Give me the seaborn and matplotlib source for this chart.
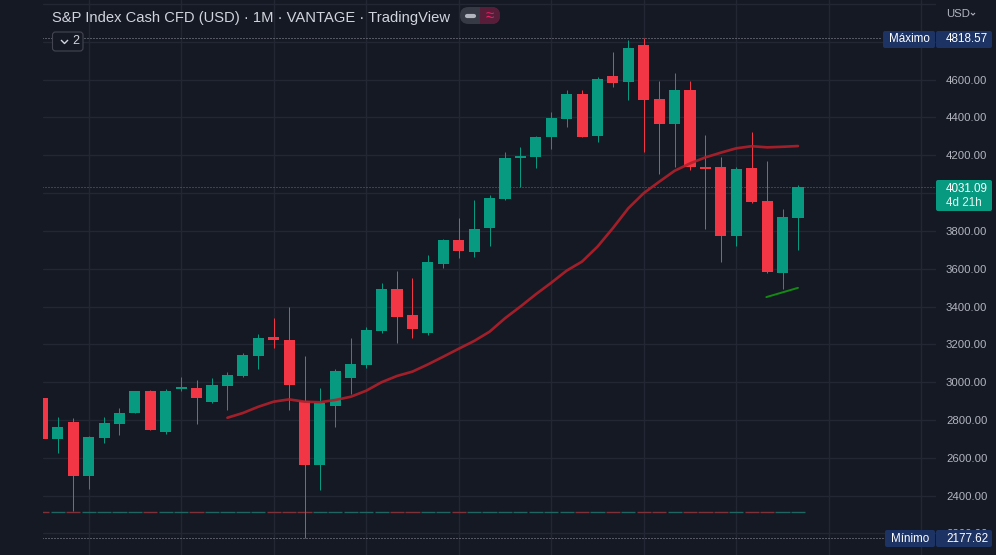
import numpy as np
import pandas as pd
import matplotlib
matplotlib.use("Agg")
import matplotlib.pyplot as plt
import seaborn as sns
from matplotlib.patches import FancyBboxPatch, Rectangle
from matplotlib.lines import Line2D
from matplotlib.transforms import IdentityTransform

# monthly candles, Oct 2018 .. Nov 2022
months = pd.period_range("2018-10", "2022-11", freq="M").astype(str).tolist()
opens = [2916, 2700, 2790, 2504, 2705, 2779, 2838, 2954, 2736, 2966,
         2970, 2895, 2980, 3033, 3139, 3239, 3223, 2900, 2562, 2874,
         3022, 3091, 3271, 3493, 3355, 3260, 3625, 3752, 3689, 3816,
         3969, 4184, 4191, 4297, 4393, 4524, 4302, 4618, 4588, 4783,
         4498, 4366, 4545, 4138, 4138, 3773, 4133, 3958, 3578, 3868]
highs = [2940, 2816, 2810, 2714, 2816, 2864, 2956, 2959, 2964, 3030,
         3011, 3022, 3054, 3155, 3255, 3339, 3397, 3139, 2970, 3070,
         3234, 3292, 3525, 3588, 3551, 3673, 3757, 3869, 3964, 3991,
         4218, 4244, 4300, 4428, 4545, 4545, 4612, 4747, 4810, 4818.57,
         4593, 4635, 4593, 4307, 4191, 4138, 4324, 4170, 3916, 4043]
lows = [2603, 2627, 2318, 2435, 2679, 2721, 2836, 2745, 2726, 2954,
        2779, 2890, 2853, 3030, 3070, 3181, 2853, 2177.62, 2430, 2763,
        2938, 3077, 3260, 3207, 3233, 3250, 3604, 3656, 3662, 3720,
        3965, 4032, 4133, 4233, 4350, 4295, 4271, 4563, 4493, 4218,
        4101, 4138, 4122, 3810, 3636, 3720, 3950, 3580, 3493, 3699]
closes = [2700, 2763, 2504, 2710, 2785, 2838, 2954, 2747, 2954, 2976,
          2917, 2985, 3038, 3144, 3234, 3224, 2985, 2562, 2889, 3059,
          3096, 3276, 3493, 3345, 3281, 3636, 3752, 3694, 3810, 3975,
          4186, 4194, 4297, 4398, 4524, 4297, 4605, 4583, 4767, 4493,
          4366, 4545, 4138, 4130, 3773, 4128, 3953, 3583, 3874, 4031.09]

# moving average line, starts at Oct 2019
ma_start = 12
ma_values = [2812, 2837, 2870, 2897, 2909, 2897, 2894, 2906, 2923, 2955,
             3000, 3033, 3056, 3094, 3135, 3177, 3218, 3267, 3338, 3400,
             3465, 3526, 3590, 3638, 3717, 3815, 3920, 4000, 4060, 4118,
             4157, 4189, 4214, 4237, 4248, 4242, 4245, 4249]

# hand drawn trend line under the last candles
trend_idx = [46.95, 49.0]
trend_val = [3450, 3499]

# price scale
price_ticks = list(range(2200, 4801, 200))
hidden_ticks = [4000, 4800]  # sit under the price labels
max_price = 4818.57
min_price = 2177.62
last_price = 4031.09
volume_level = 2316

bg = "#151924"
grid = "#232733"
up = "#089981"
down = "#f23645"
txt = "#d1d4dc"
tick_txt = "#b2b5be"
label_blue = "#1c3364"

sns.set_theme(style="dark", rc={"axes.facecolor": bg, "figure.facecolor": bg,
                                "grid.color": grid, "axes.edgecolor": bg})
plt.rcParams["font.family"] = ["Liberation Sans", "DejaVu Sans"]

W, H = 996, 555
fig = plt.figure(figsize=(W / 100, H / 100), dpi=100)
ax = fig.add_axes([43 / W, 0, (936 - 43) / W, 1])

df = pd.DataFrame({"month": months, "open": opens, "high": highs,
                   "low": lows, "close": closes})
df["i"] = np.arange(len(df))
df["color"] = np.where(df["close"] >= df["open"], up, down)
df["vol_color"] = np.where(df["close"] >= df["open"], "#1f6561", "#7e3139")

# wicks and bodies
px = 0.72  # one pixel in points
ax.vlines(df["i"], df["low"], df["high"], colors=df["color"], lw=px, zorder=3)
body_low = np.minimum(df["open"], df["close"])
body_h = np.maximum(np.abs(df["close"] - df["open"]), 6)
ax.bar(df["i"], body_h, bottom=body_low, width=0.72, color=df["color"],
       linewidth=0, zorder=4)

# empty volume strip
ax.hlines(np.full(len(df), volume_level), df["i"] - 0.46, df["i"] + 0.46,
          colors=df["vol_color"], lw=1.0, zorder=2)

ma = pd.DataFrame({"i": np.arange(ma_start, ma_start + len(ma_values)), "ma": ma_values})
sns.lineplot(data=ma, x="i", y="ma", ax=ax, color="#b2202a", lw=1.9, alpha=0.9, zorder=5)
sns.lineplot(x=trend_idx, y=trend_val, ax=ax, color="#138a13", lw=1.4, zorder=5)

step = 15.42
ax.hlines(max_price, 0, (883 - 43) / step, color="#9598a1", lw=px, ls=(0, (1, 2)), zorder=2)
ax.hlines(min_price, 0, (885 - 43) / step, color="#9598a1", lw=px, ls=(0, (1, 2)), zorder=2)
ax.hlines(last_price, 0, (936 - 43) / step, color=up, lw=px, ls=(0, (1, 2)), zorder=2)
ax.axhline(5000, color=grid, lw=1, zorder=0)

ax.set_xlim(0.04, 0.04 + (936 - 43) / step)
ax.set_ylim(2086.1, 5021.3)
ax.set_xticks(np.arange(3, 58, 6))
ax.set_xticklabels([])
ax.set_yticks(price_ticks)
ax.set_yticklabels(["" if t in hidden_ticks else f"{t:.2f}" for t in price_ticks])
ax.yaxis.tick_right()
ax.tick_params(axis="y", length=0, pad=7.2, labelcolor=tick_txt, labelsize=8.2)
ax.tick_params(axis="x", length=0)
ax.grid(True, color=grid, lw=1)
ax.set_xlabel("")
ax.set_ylabel("")
for s in ax.spines.values():
    s.set_visible(False)


def box(x0, y0, x1, y1, fc, ec="none", r=2, lw=0):
    p = FancyBboxPatch((x0, H - y1), x1 - x0, y1 - y0,
                       boxstyle=f"round,pad=0,rounding_size={r}",
                       fc=fc, ec=ec, lw=lw, transform=IdentityTransform(), zorder=5)
    fig.add_artist(p)


def line(xs, ys, color, lw=1.0, cap="butt"):
    fig.add_artist(Line2D(xs, [H - y for y in ys], color=color, lw=lw,
                          solid_capstyle=cap, transform=IdentityTransform(), zorder=6))


def label(x, y, s, color="white", size=8, ha="left"):
    fig.text(x / W, 1 - y / H, s, color=color, fontsize=size, ha=ha, va="center", zorder=7)


# header
label(52, 18, "S&P Index Cash CFD (USD) · 1M · VANTAGE · TradingView", color=txt, size=10.6)
box(460, 7, 500, 24, "#363a45", r=8.5)
fig.add_artist(FancyBboxPatch((480, H - 24), 20, 17, boxstyle="round,pad=0,rounding_size=8.5",
                              fc="#571d39", ec="none", transform=IdentityTransform(), zorder=5))
fig.add_artist(Rectangle((480, H - 24), 8, 17, fc="#571d39", ec="none",
                         transform=IdentityTransform(), zorder=5))
line([467, 474], [15.5, 15.5], "#b2b5be", lw=3, cap="round")
label(489.5, 15.5, "≈", color="#e91e63", size=11, ha="center")

box(52.5, 32, 83, 51, bg, ec="#434651", r=3, lw=0.8)
line([61, 64.5, 68], [40, 43.5, 40], txt, lw=1.0)
label(75.5, 41.5, "2", color=txt, size=9, ha="center")

label(946, 14, "USD", color=tick_txt, size=8.2)
line([971, 973, 975], [13, 15, 13], tick_txt, lw=0.8)

# price scale labels
box(883, 31, 935, 48, label_blue)
box(936, 31, 992, 48, label_blue)
label(909, 39.5, "Máximo", size=8.4, ha="center")
label(946, 39.5, f"{max_price:.2f}", size=8.4)

box(885, 530, 935, 547, label_blue)
box(936, 530, 992, 547, label_blue)
label(910, 538.5, "Mínimo", size=8.4, ha="center")
label(946, 538.5, f"{min_price:.2f}", size=8.4)

box(936, 180, 992, 211, up)
label(946, 188.5, f"{last_price:.2f}", size=8.4)
label(946, 202.5, "4d 21h", color="#e6f4f1", size=8.4)

fig.savefig("out.png", dpi=100, facecolor=bg)
